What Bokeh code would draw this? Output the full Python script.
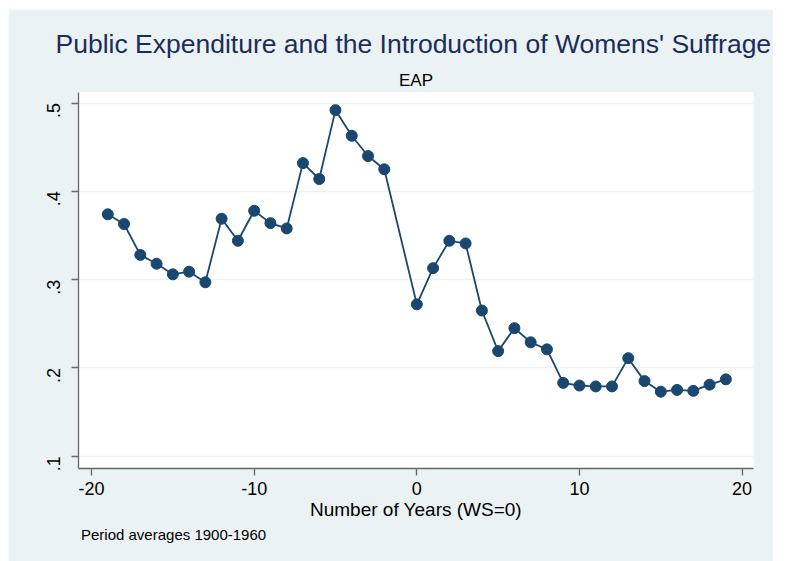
import math
from bokeh.plotting import figure
from bokeh.models import ColumnDataSource, Title, FixedTicker
from bokeh.embed import file_html
from bokeh.resources import INLINE

# Data (year relative to women's suffrage; -1 missing)
years = [-19, -18, -17, -16, -15, -14, -13, -12, -11, -10, -9, -8, -7, -6, -5, -4, -3, -2,
         0, 1, 2, 3, 4, 5, 6, 7, 8, 9, 10, 11, 12, 13, 14, 15, 16, 17, 18, 19]
expenditure = [0.374, 0.363, 0.328, 0.318, 0.306, 0.309, 0.297, 0.369, 0.344, 0.378, 0.364,
               0.358, 0.432, 0.414, 0.492, 0.463, 0.440, 0.425,
               0.272, 0.313, 0.344, 0.341, 0.265, 0.219, 0.245, 0.229, 0.221, 0.183, 0.180,
               0.179, 0.179, 0.211, 0.185, 0.173, 0.175, 0.174, 0.181, 0.187]

x_ticks = [-20, -10, 0, 10, 20]
x_tick_labels = ["-20", "-10", "0", "10", "20"]
y_ticks = [0.1, 0.2, 0.3, 0.4, 0.5]
y_tick_labels = [".1", ".2", ".3", ".4", ".5"]

title_text = "Public Expenditure and the Introduction of Womens' Suffrage"
subtitle_text = "EAP"
x_label = "Number of Years (WS=0)"
note_text = "Period averages 1900-1960"

BG = "#EAF2F3"
NAVY = "#1a476f"
FONT = "Liberation Sans"

# figure occupies page x 8..773, y 9..561
W, H = 765, 552
p = figure(width=W, height=H, output_backend="svg", toolbar_location=None,
           x_range=(-20.8, 20.7), y_range=(0.086, 0.512))
p.margin = (9, 0, 0, 8)
p.min_border_left = 70
p.min_border_right = 20
p.min_border_top = 83
p.min_border_bottom = 93
p.border_fill_color = BG
p.background_fill_color = "white"
p.outline_line_color = None

src = ColumnDataSource(dict(x=years, y=expenditure))
p.line("x", "y", source=src, line_color=NAVY, line_width=1.8)
p.scatter("x", "y", source=src, size=11, fill_color=NAVY, line_color=NAVY)

# axes
p.xaxis.ticker = FixedTicker(ticks=x_ticks)
p.xaxis.major_label_overrides = {t: l for t, l in zip(x_ticks, x_tick_labels)}
p.yaxis.ticker = FixedTicker(ticks=y_ticks)
p.yaxis.major_label_overrides = {t: l for t, l in zip(y_ticks, y_tick_labels)}
p.yaxis.major_label_orientation = math.pi / 2
for ax in (p.xaxis[0], p.yaxis[0]):
    ax.axis_line_color = "#666666"
    ax.axis_line_width = 1.3
    ax.major_tick_line_color = "#666666"
    ax.major_tick_line_width = 1.3
    ax.major_tick_in = 0
    ax.major_tick_out = 7
    ax.minor_tick_line_color = None
    ax.major_label_text_font = FONT
    ax.major_label_text_font_size = "18px"
    ax.major_label_text_color = "black"
p.xaxis.major_label_standoff = 6
p.yaxis.major_label_standoff = 18
p.xaxis.axis_label = x_label
p.xaxis.axis_label_text_font = FONT
p.xaxis.axis_label_text_font_size = "19px"
p.xaxis.axis_label_text_font_style = "normal"
p.xaxis.axis_label_text_color = "black"
p.xaxis.axis_label_standoff = 1

p.xgrid.grid_line_color = None
p.ygrid.grid_line_color = BG
p.ygrid.grid_line_width = 1.6
p.ygrid.ticker = FixedTicker(ticks=y_ticks)

# subtitle (nearest the frame) then main title above it
p.add_layout(Title(text=subtitle_text, align="center", text_font=FONT,
                   text_font_size="17px", text_font_style="normal",
                   text_color="black", standoff=6), "above")
p.add_layout(Title(text=title_text, align="left", offset=-23, text_font=FONT,
                   text_font_size="26.5px", text_font_style="normal",
                   text_color="#1c2d5c", standoff=14), "above")
# note under the x axis
p.add_layout(Title(text=note_text, align="left", offset=2.5, text_font=FONT,
                   text_font_size="15px", text_font_style="normal",
                   text_color="black", standoff=2), "below")

open("out.html", "w").write(file_html(p, INLINE))
